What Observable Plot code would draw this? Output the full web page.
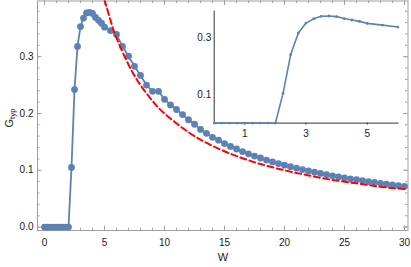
<!DOCTYPE html>
<html>
<head>
<meta charset="utf-8">
<script src="https://cdn.jsdelivr.net/npm/d3@7"></script>
<script src="https://cdn.jsdelivr.net/npm/@observablehq/plot@0.6"></script>
<style>
  html, body { margin: 0; padding: 0; background: #fff; }
  #wrap { position: relative; width: 411px; height: 267px; font-family: "Liberation Sans", Arial, sans-serif; color: #222; }
  #wrap svg { position: absolute; overflow: visible; }
  #ylab { position: absolute; left: 10px; top: 118px; transform: translate(-50%, -50%) rotate(-90deg); font-size: 11px; white-space: nowrap; }
  #ylab sub { font-size: 8px; vertical-align: -2px; }
  #xlab { position: absolute; left: 223px; top: 251px; transform: translateX(-50%); font-size: 11px; }
</style>
</head>
<body>
<div id="wrap">
  <div id="ylab">G<sub>typ</sub></div>
  <div id="xlab">W</div>
</div>
<script>
// ---- data ----
const W = [0,0.25,0.5,0.75,1,1.25,1.5,1.75,2,
  2.25,2.5,2.75,3,3.25,3.5,3.75,4,4.25,4.5,4.75,5,
  5.5,6,6.5,7,7.5,8,8.5,9,9.5,10,10.5,11,11.5,12,12.5,13,13.5,14,14.5,15,15.5,16,16.5,17,17.5,18,18.5,19,19.5,20,
  20.5,21,21.5,22,22.5,23,23.5,24,24.5,25,25.5,26,26.5,27,27.5,28,28.5,29,29.5,30];
const G = [0,0,0,0,0,0,0,0,0,
  0.105,0.242,0.318,0.353,0.368,0.377,0.378,0.376,0.369,0.364,0.359,0.352,
  0.346,0.339,0.318,0.301,0.283,0.267,0.250,0.239,0.239,0.225,0.215,0.207,0.198,0.189,0.181,0.172,0.165,0.158,0.153,0.147,0.142,0.1375,0.133,0.129,0.125,0.1216,0.118,0.1148,0.1118,0.109,
  0.1064,0.1037,0.1012,0.0989,0.0967,0.0945,0.0923,0.0903,0.0885,0.0868,0.085,0.0834,0.0817,0.0801,0.0785,0.0771,0.0757,0.0744,0.073,0.0717];
// red dashed reference curve
const RW = [5,5.5,6,7,8,9,10,12,14,16,18,20,22,24,26,28,30];
const RG = [0.400,0.364,0.333,0.286,0.250,0.222,0.200,0.167,0.143,0.125,0.111,0.100,0.091,0.083,0.077,0.071,0.067];
// ticks
const xMajor = [0,5,10,15,20,25,30];
const xMinor = d3.range(0,31,1);
const yMajor = [0,0.1,0.2,0.3];
const yMinor = d3.range(0,0.40,0.02);
const insetX = [1,3,5];
const insetY = [0.1,0.3];

const blue = "#5E81B5";
const series = W.map((w,i)=>({W:w, G:G[i]}));
const red = RW.map((w,i)=>({W:w, G:RG[i]}));
const insetData = series.filter(d=>d.W<=6);

// ---- main chart ----
const width = 411, height = 267;
const mL = 37, mR = 3.5, mT = 0.5, mB = 37;
const xd = [-0.583, 30.29], yd = [-0.006, 0.398];
const kx = (width-mL-mR)/(xd[1]-xd[0]);   // px per unit
const ky = (height-mT-mB)/(yd[1]-yd[0]);
const ax = "#a0a0a0";
function tickRulesX(vals, len){
  return [
    Plot.ruleX(vals, {x: d=>d, y1: yd[0], y2: yd[0]+len/ky, stroke: ax, strokeWidth: 1}),
    Plot.ruleX(vals, {x: d=>d, y1: yd[1], y2: yd[1]-len/ky, stroke: ax, strokeWidth: 1})
  ];
}
function tickRulesY(vals, len){
  return [
    Plot.ruleY(vals, {y: d=>d, x1: xd[0], x2: xd[0]+len/kx, stroke: ax, strokeWidth: 1}),
    Plot.ruleY(vals, {y: d=>d, x1: xd[1], x2: xd[1]-len/kx, stroke: ax, strokeWidth: 1})
  ];
}
const main = Plot.plot({
  width, height, marginLeft: mL, marginRight: mR, marginTop: mT, marginBottom: mB,
  x: {domain: xd},
  y: {domain: yd},
  style: {fontFamily: "Liberation Sans, Arial, sans-serif", fontSize: "10px", color: "#222", background: "transparent"},
  marks: [
    ...tickRulesX(xMinor, 2.5), ...tickRulesX(xMajor, 4.5),
    ...tickRulesY(yMinor, 2.5), ...tickRulesY(yMajor, 4.5),
    Plot.frame({stroke: ax}),
    Plot.axisX(xMajor, {anchor: "bottom", tickSize: 0, tickPadding: 8, label: null, tickFormat: d=>String(d)}),
    Plot.axisY(yMajor, {anchor: "left", tickSize: 0, tickPadding: 4, label: null, tickFormat: d3.format(".1f")}),
    Plot.line(series, {x: "W", y: "G", stroke: blue, strokeWidth: 1.8}),
    Plot.dot(series, {x: "W", y: "G", r: 3.4, fill: blue, stroke: "none"}),
    Plot.line(red, {x: "W", y: "G", stroke: "#ff0000", strokeWidth: 2, strokeDasharray: "6,3.5", curve: "natural", clip: true})
  ]
});
main.style.left = "0px"; main.style.top = "0px";

// ---- inset ----
const iW = 231, iH = 150;
const inset = Plot.plot({
  width: iW, height: iH, marginLeft: 33.7, marginRight: 12.5, marginTop: 10.7, marginBottom: 27.4,
  x: {domain: [0, 6.04]},
  y: {domain: [0, 0.395]},
  style: {fontFamily: "Liberation Sans, Arial, sans-serif", fontSize: "10px", color: "#222", background: "transparent"},
  marks: [
    Plot.ruleY([0], {stroke: "#333", strokeWidth: 1}),
    Plot.ruleX([0], {stroke: "#333", strokeWidth: 1}),
    Plot.axisX(insetX, {anchor: "bottom", tickSize: 2, tickPadding: 5, label: null, stroke: "#333"}),
    Plot.axisY(insetY, {anchor: "left", tickSize: 0, tickPadding: 3, label: null, tickFormat: d3.format(".1f")}),
    Plot.line(insetData, {x: "W", y: "G", stroke: blue, strokeWidth: 1.6}),
    Plot.dot(insetData, {x: "W", y: "G", r: 1.4, fill: blue, stroke: "none"})
  ]
});
inset.style.left = "180px"; inset.style.top = "0px";

const wrap = document.getElementById("wrap");
wrap.prepend(inset);
wrap.prepend(main);
</script>
</body>
</html>
